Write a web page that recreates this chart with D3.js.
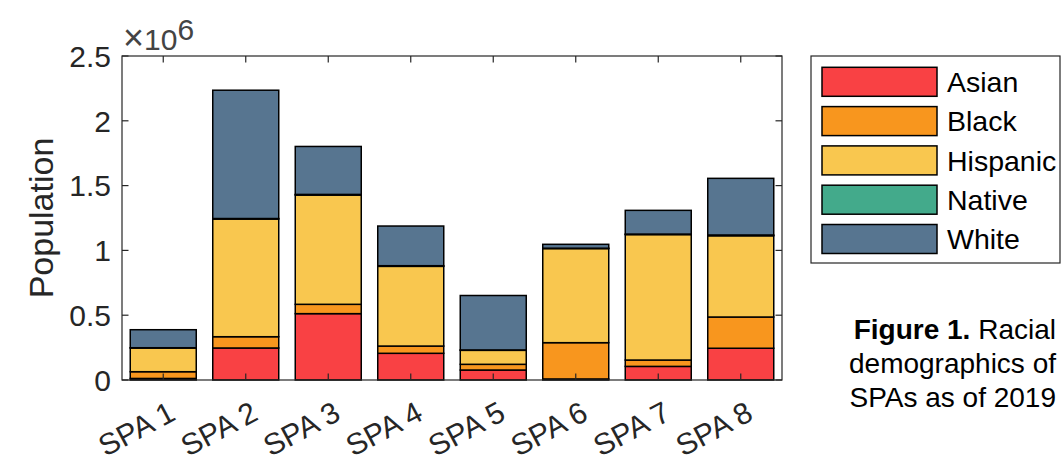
<!DOCTYPE html>
<html>
<head>
<meta charset="utf-8">
<script src="https://cdn.jsdelivr.net/npm/d3@7"></script>
<style>
  body { margin: 0; background: #fff; }
  svg { display: block; font-family: "Liberation Sans", Arial, sans-serif; }
</style>
</head>
<body>
<svg id="chart" width="1061" height="461"></svg>
<script>
// values in millions
var categories = ['SPA 1', 'SPA 2', 'SPA 3', 'SPA 4', 'SPA 5', 'SPA 6', 'SPA 7', 'SPA 8'];
var groups = ['Asian', 'Black', 'Hispanic', 'Native', 'White'];
var asian    = [0.012, 0.247, 0.512, 0.206, 0.077, 0.008, 0.105, 0.245];
var black    = [0.052, 0.087, 0.072, 0.056, 0.044, 0.280, 0.049, 0.241];
var hispanic = [0.183, 0.908, 0.843, 0.615, 0.108, 0.726, 0.968, 0.627];
var native   = [0.002, 0.004, 0.005, 0.005, 0.003, 0.003, 0.004, 0.006];
var white    = [0.139, 0.990, 0.370, 0.306, 0.420, 0.030, 0.183, 0.437];
var colors   = ['#F94144', '#F8961E', '#F9C74F', '#43AA8B', '#577590'];
var yTicks   = [0, 0.5, 1, 1.5, 2, 2.5];
var yTickLabels = ['0', '0.5', '1', '1.5', '2', '2.5'];

(function () {
  'use strict';

  var series = [asian, black, hispanic, native, white];
  var rows = categories.map(function (c, i) {
    var r = { name: c };
    groups.forEach(function (g, j) { r[g] = series[j][i]; });
    return r;
  });

  var svg = d3.select('#chart');
  var axLeft = 122, axRight = 782, axTop = 56, axBottom = 380;
  var axColor = '#262626';

  var x = d3.scaleBand().domain(categories).range([axLeft, axRight])
    .paddingInner(0.2).paddingOuter(0.1);
  var y = d3.scaleLinear().domain([0, 2.5]).range([axBottom, axTop]);
  var color = d3.scaleOrdinal().domain(groups).range(colors);

  var stacked = d3.stack().keys(groups)(rows);

  // bars
  svg.append('g').selectAll('g')
    .data(stacked)
    .enter().append('g')
    .attr('fill', function (d) { return color(d.key); })
    .selectAll('rect')
    .data(function (d) { return d; })
    .enter().append('rect')
    .attr('x', function (d) { return x(d.data.name); })
    .attr('width', x.bandwidth())
    .attr('y', function (d) { return y(d[1]); })
    .attr('height', function (d) { return y(d[0]) - y(d[1]); })
    .attr('stroke', '#000')
    .attr('stroke-width', 1.5);

  // axes box
  svg.append('rect')
    .attr('x', axLeft).attr('y', axTop)
    .attr('width', axRight - axLeft).attr('height', axBottom - axTop)
    .attr('fill', 'none').attr('stroke', axColor).attr('stroke-width', 1.2);

  var tickLen = 6.5;
  var ticks = svg.append('g').attr('stroke', axColor).attr('stroke-width', 1.2);
  yTicks.forEach(function (t) {
    ticks.append('line').attr('x1', axLeft).attr('x2', axLeft + tickLen)
      .attr('y1', y(t)).attr('y2', y(t));
    ticks.append('line').attr('x1', axRight).attr('x2', axRight - tickLen)
      .attr('y1', y(t)).attr('y2', y(t));
  });
  categories.forEach(function (c) {
    var cx = x(c) + x.bandwidth() / 2;
    ticks.append('line').attr('x1', cx).attr('x2', cx)
      .attr('y1', axBottom).attr('y2', axBottom - tickLen);
    ticks.append('line').attr('x1', cx).attr('x2', cx)
      .attr('y1', axTop).attr('y2', axTop + tickLen);
  });

  // y tick labels
  svg.append('g').selectAll('text')
    .data(yTicks)
    .enter().append('text')
    .attr('x', axLeft - 11)
    .attr('y', function (d) { return y(d); })
    .attr('dy', '0.36em')
    .attr('text-anchor', 'end')
    .attr('font-size', 30)
    .attr('fill', axColor)
    .text(function (d, i) { return yTickLabels[i]; });

  // exponent
  var expo = svg.append('text').attr('x', 123).attr('y', 50)
    .attr('font-size', 30).attr('fill', '#444');
  expo.append('tspan').attr('font-size', 36).text('\u00d7');
  expo.append('tspan').text('10');
  expo.append('tspan').attr('dy', -10).text('6');

  // x tick labels
  svg.append('g').selectAll('text')
    .data(categories)
    .enter().append('text')
    .attr('transform', function (d) {
      return 'translate(' + (x(d) + x.bandwidth() / 2 + 14) + ',' + 419 + ') rotate(-28)';
    })
    .attr('text-anchor', 'end')
    .attr('font-size', 30)
    .attr('fill', axColor)
    .text(function (d) { return d; });

  // y label
  svg.append('text')
    .attr('transform', 'translate(53,' + ((axTop + axBottom) / 2) + ') rotate(-90)')
    .attr('text-anchor', 'middle')
    .attr('font-size', 34)
    .attr('fill', axColor)
    .text('Population');

  // legend
  var legend = svg.append('g');
  legend.append('rect')
    .attr('x', 811).attr('y', 56).attr('width', 249).attr('height', 207)
    .attr('fill', '#fff').attr('stroke', axColor).attr('stroke-width', 1.2);
  var item = legend.selectAll('g.item')
    .data(groups)
    .enter().append('g')
    .attr('class', 'item')
    .attr('transform', function (d, i) { return 'translate(0,' + (81.8 + i * 39.3) + ')'; });
  item.append('rect')
    .attr('x', 822).attr('y', -14.5).attr('width', 115).attr('height', 29)
    .attr('fill', function (d) { return color(d); })
    .attr('stroke', '#000').attr('stroke-width', 1.5);
  item.append('text')
    .attr('x', 947).attr('dy', '0.36em')
    .attr('font-size', 28.5).attr('fill', '#000')
    .text(function (d) { return d; });

  // caption
  var caption = svg.append('g').attr('font-size', 28).attr('fill', '#000')
    .attr('text-anchor', 'end');
  var l1 = caption.append('text').attr('x', 1056).attr('y', 339);
  l1.append('tspan').attr('font-weight', 'bold').text('Figure 1.');
  l1.append('tspan').text(' Racial');
  caption.append('text').attr('x', 1056).attr('y', 373).text('demographics of');
  caption.append('text').attr('x', 1056).attr('y', 407).text('SPAs as of 2019');
})();
</script>
</body>
</html>
